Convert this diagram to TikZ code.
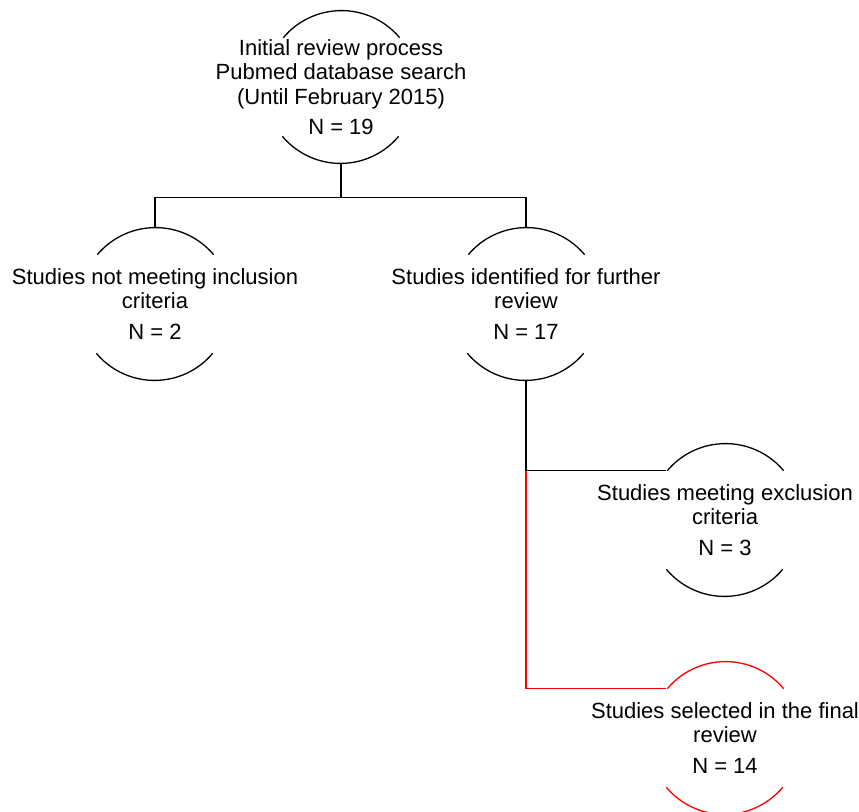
\documentclass[tikz,border=0pt]{standalone}
\usepackage{fontspec}
\setmainfont{Liberation Sans}
\tikzset{
  every picture/.style = {
    line width = 1.3pt,
    x = 1pt,
    y = -1pt
  }
  , % round frame of a stage, open at both sides
  stage/.style = {
    circle,
    minimum size = 152pt,
    inner sep = 0pt
  }
  , % text inside a stage
  stage-text/.style = {
    align = center,
    inner sep = 0pt,
    font = \fontsize{22}{24.5}\selectfont
  }
}

\begin{document}
\begin{tikzpicture}
\useasboundingbox (0,0) rectangle (859,811);

\node[stage] at (341,87) (init) [label={[stage-text]center:Initial review process\\Pubmed database search\\(Until February 2015)\\[6pt]N = 19}] {};
\node[stage] at (155,304) (notmeet) [label={[stage-text]center:Studies not meeting inclusion\\criteria\\[6pt]N = 2}] {};
\node[stage] at (526,304) (further) [label={[stage-text]center:Studies identified for further\\review\\[6pt]N = 17}] {};
\node[stage] at (725,520) (exclusion) [label={[stage-text]center:Studies meeting exclusion\\criteria\\[6pt]N = 3}] {};
\node[stage] at (725,738) (selected) [label={[stage-text]center:Studies selected in the final\\review\\[6pt]N = 14}] {};

% arcs of the stages
\foreach \n in {init,notmeet,further,exclusion} {
  \draw (\n.40) arc[start angle=40, end angle=140, radius=76pt];
  \draw (\n.220) arc[start angle=220, end angle=320, radius=76pt];
}
\draw[red] (selected.40) arc[start angle=40, end angle=140, radius=76pt];
\draw[red] (selected.220) arc[start angle=220, end angle=320, radius=76pt];

% connectors
\coordinate (fork) at ([yshift=-34pt]init.south);
\draw (init.south) -- (fork);
\draw (notmeet.north) |- (fork) -| (further.north);

\coordinate (branch) at (further.south |- exclusion.140);
\draw (further.south) -- (branch) -- (exclusion.140);
\draw[red] (branch) |- (selected.140);
\end{tikzpicture}
\end{document}
